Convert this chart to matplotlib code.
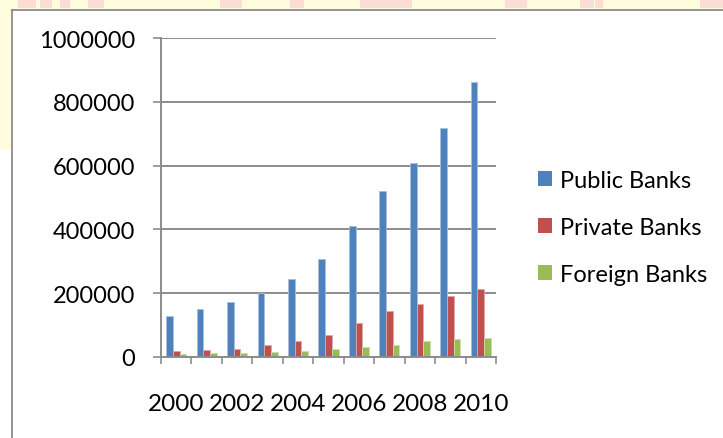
import matplotlib
matplotlib.use("Agg")
import matplotlib.pyplot as plt
from matplotlib.patches import Rectangle
from matplotlib.lines import Line2D
import numpy as np

years = list(range(2000, 2011))
public_banks = [127000, 149000, 171000, 200000, 243000, 307000, 410000, 520000, 607000, 718000, 862000]
private_banks = [18000, 21000, 25000, 37000, 49000, 69000, 106000, 144000, 164000, 190000, 214000]
foreign_banks = [8500, 11500, 12500, 15000, 18000, 24000, 30000, 37000, 49000, 55000, 59000]
series_names = ["Public Banks", "Private Banks", "Foreign Banks"]
colors = ["#4F81BD", "#C0504D", "#9BBB59"]
edge_colors = ["#A7C0DE", "#DFA7A6", "#CDDDAC"]
y_ticks = [0, 200000, 400000, 600000, 800000, 1000000]

FONT = ["Lato", "DejaVu Sans"]
plt.rcParams["font.family"] = FONT

W, H = 723, 439
fig = plt.figure(figsize=(W / 100, H / 100), dpi=100)
fig.patch.set_facecolor("white")

def px(x0, y0, w, h, **kw):
    # rectangle in pixel coords (top-left origin)
    return Rectangle((x0 / W, 1 - (y0 + h) / H), w / W, h / H, transform=fig.transFigure, **kw)

# pale watermark background strips
fig.patches.append(px(0, 0, W, 11, facecolor="#FFFCDE", edgecolor="none", zorder=0))
fig.patches.append(px(0, 0, 11, 150, facecolor="#FFFCDE", edgecolor="none", zorder=0))
for x0, w in [(18, 18), (40, 12), (60, 10), (88, 16), (220, 14), (232, 10), (290, 14), (360, 22), (382, 30),
              (505, 22), (580, 14), (595, 8), (700, 23)]:
    fig.patches.append(px(x0, 0, w, 9, facecolor="#FBDDD6", edgecolor="none", zorder=0))

# chart border
fig.lines.append(Line2D([11.5 / W, 11.5 / W], [0, 1 - 11 / H], transform=fig.transFigure, color="#8C8C8C", lw=1.3))
fig.lines.append(Line2D([11.5 / W, 1], [1 - 11 / H, 1 - 11 / H], transform=fig.transFigure, color="#8C8C8C", lw=1.3))

ax_l, ax_r, ax_t, ax_b = 161, 496, 39.3, 357.7
ax = fig.add_axes([ax_l / W, 1 - ax_b / H, (ax_r - ax_l) / W, (ax_b - ax_t) / H])
ax.set_facecolor("none")

x = np.arange(len(years))
bw = 0.22
data = [public_banks, private_banks, foreign_banks]
for i, (vals, name, c, ec) in enumerate(zip(data, series_names, colors, edge_colors)):
    ax.bar(x + (i - 1) * bw, vals, width=bw, color=c, edgecolor=ec, linewidth=0.6, label=name, zorder=3)

ax.set_xlim(-0.5, len(years) - 0.5)
ax.set_ylim(0, 1000000)
ax.set_yticks(y_ticks)
ax.set_yticklabels([str(v) for v in y_ticks], fontsize=17, color="black")
ax.yaxis.grid(True, color="#8C8C8C", lw=1.4, zorder=1)
ax.tick_params(axis="y", length=6, width=1.2, color="#8C8C8C", pad=12.5)

ax.set_xticks(x[::2])
ax.set_xticklabels([str(y) for y in years[::2]], fontsize=17.5, color="black")
ax.set_xticks(np.arange(-0.5, len(years)), minor=True)
ax.tick_params(axis="x", which="major", length=0, pad=26)
ax.tick_params(axis="x", which="minor", length=5, width=1.2, color="#8C8C8C")

for s in ["top", "right"]:
    ax.spines[s].set_visible(False)
for s in ["left", "bottom"]:
    ax.spines[s].set_color("#8C8C8C")
    ax.spines[s].set_linewidth(1.4)
    ax.spines[s].set_zorder(4)

leg = ax.legend(loc="center left", bbox_to_anchor=(538 / W, 1 - 228.5 / H), bbox_transform=fig.transFigure,
                frameon=False, fontsize=17, handlelength=0.6, handleheight=0.6, handletextpad=0.35,
                labelspacing=1.1, borderaxespad=0, borderpad=0)
for h in leg.legend_handles:
    h.set_edgecolor("none")

fig.savefig("out.png", dpi=100, facecolor=fig.get_facecolor())
